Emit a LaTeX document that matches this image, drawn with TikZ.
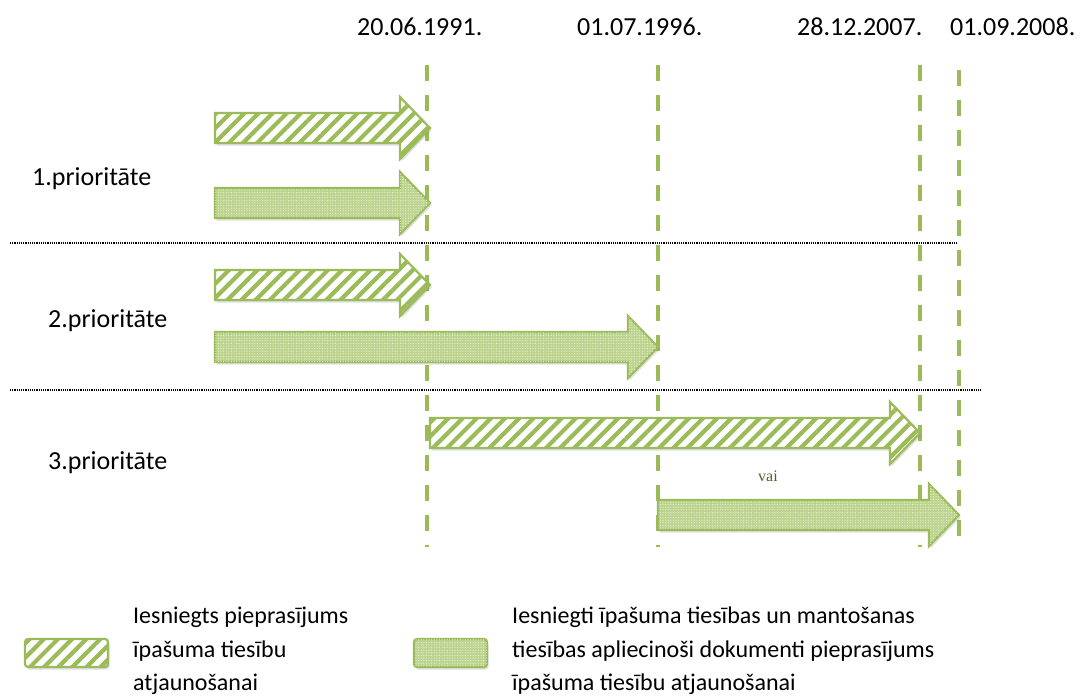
\documentclass[tikz,border=0pt]{standalone}
\usepackage{fontspec}
\setmainfont{Carlito}
\newfontfamily\vaifont{Liberation Serif}
\usetikzlibrary{patterns.meta,shadows}

\definecolor{olivegr}{HTML}{9BBB59}
\definecolor{lightgr}{HTML}{BCD48E}
\definecolor{vaicol}{HTML}{4F6228}

\tikzset{
  hatcharrow/.style={draw=olivegr, line width=2.2pt, line join=miter, fill=white,
    drop shadow={shadow xshift=1.5pt, shadow yshift=-2.5pt, opacity=.25},
    postaction={pattern={Lines[angle=45,distance=10pt,line width=4.2pt]}, pattern color=olivegr}},
  dotarrow/.style={draw=olivegr, line width=2.2pt, line join=miter, fill=lightgr,
    drop shadow={shadow xshift=1.5pt, shadow yshift=-2.5pt, opacity=.25},
    postaction={pattern={Dots[distance=2.6pt,radius=.6pt]}, pattern color=white!70!lightgr}},
  dateline/.style={olivegr, line width=3.5pt, dash pattern=on 16pt off 14pt},
  sepline/.style={densely dotted, line width=1.2pt},
  lbl/.style={font=\fontsize{26}{30}\selectfont, inner sep=0pt},
  leg/.style={font=\fontsize{24}{28}\selectfont, inner sep=0pt, anchor=base west}
}

% block arrow: style, start x, tip x, centre y
\newcommand{\fatarrow}[4]{%
  \draw[#1] (#2,#4-15) -- (#3-30,#4-15) -- (#3-30,#4-31) -- (#3,#4)
    -- (#3-30,#4+31) -- (#3-30,#4+15) -- (#2,#4+15) -- cycle;}

\begin{document}
\begin{tikzpicture}[x=1pt,y=-1pt]
\useasboundingbox (0,0) rectangle (1080,697);

% dates
\node[lbl, anchor=base west] (d1) at (357,35) {20.06.1991.};
\node[lbl, anchor=base west] (d2) at (577,35) {01.07.1996.};
\node[lbl, anchor=base west] (d3) at (797,35) {28.12.2007.};
\node[lbl, anchor=base west] (d4) at (950,35) {01.09.2008.};

% date lines
\coordinate (t1) at (427,65);  \coordinate (b1) at (427,547);
\coordinate (t2) at (658,65);  \coordinate (b2) at (658,547);
\coordinate (t3) at (920,65);  \coordinate (b3) at (920,547);
\coordinate (t4) at (959,70);  \coordinate (b4) at (959,550);
\foreach \i in {1,...,4}
  \draw[dateline] (t\i) -- (b\i);

% separators
\coordinate (s1a) at (10,243); \coordinate (s1b) at (958,243);
\coordinate (s2a) at (10,390); \coordinate (s2b) at (982,390);
\draw[sepline] (s1a) -- (s1b);
\draw[sepline] (s2a) -- (s2b);

% priorities
\node[lbl, anchor=base west] (p1) at (32,185) {1.prioritāte};
\node[lbl, anchor=base west] (p2) at (48,327) {2.prioritāte};
\node[lbl, anchor=base west] (p3) at (48,469) {3.prioritāte};

\fatarrow{hatcharrow}{215}{430}{128}
\fatarrow{dotarrow}{215}{430}{203}
\fatarrow{hatcharrow}{215}{430}{285}
\fatarrow{dotarrow}{215}{658}{347}
\fatarrow{hatcharrow}{430}{920}{433}
\fatarrow{dotarrow}{658}{959}{515}

\node[font=\vaifont\fontsize{16}{18}\selectfont, text=vaicol, inner sep=0pt] (vai) at (768,476) {vai};

% legend
\draw[hatcharrow, rounded corners=3pt, drop shadow={opacity=0}] (25,639) rectangle (108,667);
\draw[dotarrow, rounded corners=3pt, drop shadow={opacity=0}] (414,639) rectangle (487,667);
\node[leg] (la1) at (133,623) {Iesniegts pieprasījums};
\node[leg] (la2) at (133,657) {īpašuma tiesību};
\node[leg] (la3) at (133,690) {atjaunošanai};
\node[leg] (lb1) at (512,623) {Iesniegti īpašuma tiesības un mantošanas};
\node[leg] (lb2) at (512,657) {tiesības apliecinoši dokumenti pieprasījums};
\node[leg] (lb3) at (512,690) {īpašuma tiesību atjaunošanai};
\end{tikzpicture}
\end{document}
